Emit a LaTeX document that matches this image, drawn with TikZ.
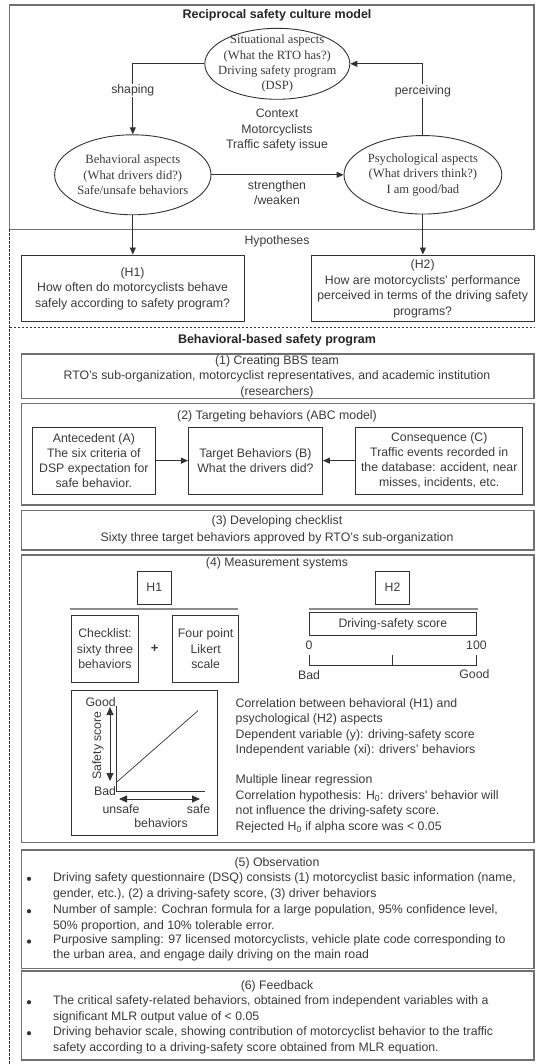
\documentclass[tikz,border=0pt]{standalone}
\usepackage{fontspec}
\setmainfont{Liberation Serif}
\setsansfont{Liberation Sans}
\usetikzlibrary{arrows.meta,shapes.geometric}
\definecolor{tc}{HTML}{3A3A3A}
\definecolor{bc}{HTML}{707070}
\definecolor{lc}{HTML}{333333}
\definecolor{rc}{HTML}{8C8C8C}
\begin{document}
\begin{tikzpicture}[x=1pt,y=-1pt,
  sf/.style={font=\sffamily\fontsize{12.3}{15.6}\selectfont, text=tc, inner sep=0pt, align=center},
  sr/.style={font=\rmfamily\fontsize{12.6}{15.3}\selectfont, text=tc, inner sep=0pt, align=center},
  ttl/.style={font=\sffamily\bfseries\fontsize{12.5}{15}\selectfont, text=black!85, inner sep=0pt},
  obox/.style={draw=bc, line width=1.4pt, inner sep=0pt},
  ibox/.style={draw=lc, line width=0.9pt},
  ell/.style={ellipse, draw=lc, line width=0.9pt, inner sep=0pt},
  arr/.style={draw=lc, line width=0.9pt, -{Triangle[length=7pt,width=6pt]}},
  dbl/.style={draw=lc, line width=0.9pt, {Triangle[length=8pt,width=7pt]}-{Triangle[length=8pt,width=7pt]}},
  dsh/.style={draw=lc, line width=0.7pt, dash pattern=on 2.5pt off 1.5pt},
  lbl/.style={sf, fill=white, inner sep=1pt},
  rulel/.style={draw=rc, line width=1.5pt},
  thin/.style={draw=lc, line width=0.9pt},
  bul/.style={circle, fill=lc, inner sep=0pt, minimum size=4.2pt},
]
\useasboundingbox (0,0) rectangle (535,1064);

% ---------- Reciprocal safety culture model ----------
\node[obox, minimum width=524.5pt, minimum height=224.3pt] (top) at (271.75,117.15) {};
\node[ttl] (title) at (277,15) {Reciprocal safety culture model};

\node[ell, minimum width=145pt, minimum height=71pt] (sit) at (277.3,63.8) {};
\node[sr] (sittxt) at (sit) {Situational aspects\\(What the RTO has?)\\Driving safety program\\(DSP)};

\node[sf] (ctx) at (277,130) {Context\\Motorcyclists\\Traffic safety issue};

\node[ell, minimum width=156.4pt, minimum height=80pt] (beh) at (132.8,174.8) {};
\node[sr] (behtxt) at (beh) {Behavioral aspects\\(What drivers did?)\\Safe/unsafe behaviors};

\node[ell, minimum width=157.8pt, minimum height=78.5pt] (psy) at (422.9,174.8) {};
\node[sr] (psytxt) at (psy) {Psychological aspects\\(What drivers think?)\\I am good/bad};

\draw[arr] (sit.west) -| node[lbl, pos=0.69] {shaping} (beh.north);
\draw[arr] (psy.north) |- node[lbl, pos=0.31] {perceiving} (sit.east);
\draw[arr] (beh.east) -- (psy.west);
\node[sf] (sw) at (277,192.5) {strengthen\\/weaken};

% ---------- dashed frame ----------
\coordinate (d0) at (9.5,229.3);
\coordinate (d1) at (9.5,1064);
\coordinate (e0) at (9.5,327.3);
\coordinate (e1) at (535,327.3);
\draw[dsh] (d0) -- (d1);
\draw[dsh] (e0) -- (e1);

% ---------- Hypotheses ----------
\node[sf] (hyp) at (277,241.7) {Hypotheses};
\node[ibox, minimum width=222.8pt, minimum height=66.7pt] (h1b) at (132.6,288.35) {};
\node[sf] (h1t) at (132.6,288.7) {(H1)\\How often do motorcyclists behave\\safely according to safety program?};
\node[ibox, minimum width=222.7pt, minimum height=66.7pt] (h2b) at (422.65,288.35) {};
\node[sf] (h2t) at (422.65,289) {(H2)\\How are motorcyclists’ performance\\perceived in terms of the driving safety\\programs?};
\draw[arr] (beh.south) -- (beh.south |- h1b.north);
\draw[arr] (psy.south) -- (psy.south |- h2b.north);

% ---------- BBS ----------
\node[ttl] (bbs) at (277,340) {Behavioral-based safety program};

\node[obox, minimum width=512.8pt, minimum height=44.3pt] (b1) at (277.6,376.15) {};
\node[sf] (b1t) at (277,376.5) {(1) Creating BBS team\\RTO’s sub-organization, motorcyclist representatives, and academic institution\\(researchers)};

\node[obox, minimum width=512.8pt, minimum height=101.7pt] (b2) at (277.6,454.15) {};
\node[sf] (b2t) at (277,416.7) {(2) Targeting behaviors (ABC model)};
\node[ibox, minimum width=122.9pt, minimum height=66.7pt] (A) at (93.85,460.65) {};
\node[sf, font=\sffamily\fontsize{12.3}{15}\selectfont] (At) at (A) {Antecedent (A)\\The six criteria of\\DSP expectation for\\safe behavior.};
\node[ibox, minimum width=134.1pt, minimum height=66.7pt] (B) at (255.45,460.65) {};
\node[sf, font=\sffamily\fontsize{12.3}{15}\selectfont] (Bt) at (B) {Target Behaviors (B)\\What the drivers did?};
\node[ibox, minimum width=167.3pt, minimum height=66.7pt] (C) at (439.25,460.65) {};
\node[sf, font=\sffamily\fontsize{12.3}{15}\selectfont] (Ct) at (C) {Consequence (C)\\Traffic events recorded in\\the database: accident, near\\misses, incidents, etc.};
\draw[arr] (A.east) -- (B.west);
\draw[arr] (C.west) -- (B.east);

\node[obox, minimum width=512.8pt, minimum height=39.3pt] (b3) at (277.6,530.35) {};
\node[sf, font=\sffamily\fontsize{12.3}{16.4}\selectfont] (b3t) at (277,530) {(3) Developing checklist\\Sixty three target behaviors approved by RTO’s sub-organization};

% ---------- (4) Measurement systems ----------
\node[obox, minimum width=512.8pt, minimum height=287.7pt] (b4) at (277.6,698.85) {};
\node[sf] (b4t) at (277,563.3) {(4) Measurement systems};
\node[ibox, sf, minimum width=34.1pt, minimum height=33.3pt] (mh1) at (154.25,587.65) {H1};
\node[ibox, sf, minimum width=34.1pt, minimum height=33.3pt] (mh2) at (392.5,587.65) {H2};
\draw[rulel] (70,609) -- (238.2,609);
\draw[rulel] (308.9,609) -- (477.8,609);
\node[ibox, sf, minimum width=66.5pt, minimum height=67pt] (chk) at (104.95,648.8) {Checklist:\\sixty three\\behaviors};
\node[sf, font=\sffamily\bfseries\fontsize{13}{15}\selectfont] (plus) at (154.6,649) {+};
\node[ibox, sf, minimum width=66.5pt, minimum height=67pt] (fpl) at (205.65,648.8) {Four point\\Likert\\scale};
\node[ibox, sf, minimum width=166.5pt, minimum height=22.3pt] (dss) at (392.85,623.85) {Driving-safety score};
\node[sf] (s0) at (309,645) {0};
\node[sf] (s100) at (476.5,645) {100};
\draw[thin] (309.6,655) -- (309.6,665) -- (476.1,665) -- (476.1,655);
\draw[thin] (392,655) -- (392,665);
\node[sf] (sbad) at (309,675) {Bad};
\node[sf] (sgood) at (474.4,674) {Good};

% graph
\node[ibox, minimum width=145.7pt, minimum height=145.7pt] (gbox) at (144.55,762.85) {};
\coordinate (gy) at (116,706);
\coordinate (go) at (116,791.7);
\coordinate (gx) at (204.8,791.7);
\draw[thin] (gy) -- (go) -- (gx);
\coordinate (l0) at (116,782.7);
\coordinate (l1) at (198,710.7);
\draw[draw=lc, line width=0.7pt] (l0) -- (l1);
\coordinate (va) at (110,707);
\coordinate (vb) at (110,781);
\draw[dbl] (va) -- (vb);
\coordinate (ha) at (119,799);
\coordinate (hb) at (200,799);
\draw[dbl] (ha) -- (hb);
\node[sf] (ggood) at (100.7,701.7) {Good};
\node[sf] (gbad) at (105,791) {Bad};
\node[sf, rotate=90] (gss) at (98,745.5) {Safety score};
\node[sf] (gun) at (121,809) {unsafe};
\node[sf] (gsafe) at (198.6,809) {safe};
\node[sf] (gbeh) at (161,823.3) {behaviors};

\node[sf, align=left, anchor=west, font=\sffamily\fontsize{12.3}{15.5}\selectfont] (corr) at (235.5,727.5) {Correlation between behavioral (H1) and\\psychological (H2) aspects\\Dependent variable (y): driving-safety score\\Independent variable (xi): drivers’ behaviors};
\node[sf, align=left, anchor=west, font=\sffamily\fontsize{12.3}{15.5}\selectfont] (mlr) at (235.5,804) {Multiple linear regression\\Correlation hypothesis: H\textsubscript{0}: drivers\textquotesingle{} behavior will\\not influence the driving-safety score.\\Rejected H\textsubscript{0} if alpha score was < 0.05};

% ---------- (5) Observation ----------
\node[obox, minimum width=512.8pt, minimum height=118.3pt] (b5) at (277.6,909.15) {};
\node[sf] (b5t) at (277,863.3) {(5) Observation};
\node[bul] (p1) at (29,878.8) {};
\node[bul] (p2) at (29,911.2) {};
\node[bul] (p3) at (29,941.5) {};
\node[sf, align=left, anchor=west] (o1) at (52.9,886.2) {Driving safety questionnaire (DSQ) consists (1) motorcyclist basic information (name,\\gender, etc.), (2) a driving-safety score, (3) driver behaviors};
\node[sf, align=left, anchor=west] (o2) at (52.9,918.2) {Number of sample: Cochran formula for a large population, 95\% confidence level,\\50\% proportion, and 10\% tolerable error.};
\node[sf, align=left, anchor=west] (o3) at (52.9,948) {Purposive sampling: 97 licensed motorcyclists, vehicle plate code corresponding to\\the urban area, and engage daily driving on the main road};

% ---------- (6) Feedback ----------
\node[obox, minimum width=512.8pt, minimum height=89pt] (b6) at (277.6,1015.5) {};
\node[sf] (b6t) at (277,986.7) {(6) Feedback};
\node[bul] (q1) at (29,1002.2) {};
\node[bul] (q2) at (29,1033.2) {};
\node[sf, align=left, anchor=west] (f1) at (52.9,1009.5) {The critical safety-related behaviors, obtained from independent variables with a\\significant MLR output value of < 0.05};
\node[sf, align=left, anchor=west] (f2) at (52.9,1040.2) {Driving behavior scale, showing contribution of motorcyclist behavior to the traffic\\safety according to a driving-safety score obtained from MLR equation.};
\end{tikzpicture}
\end{document}
